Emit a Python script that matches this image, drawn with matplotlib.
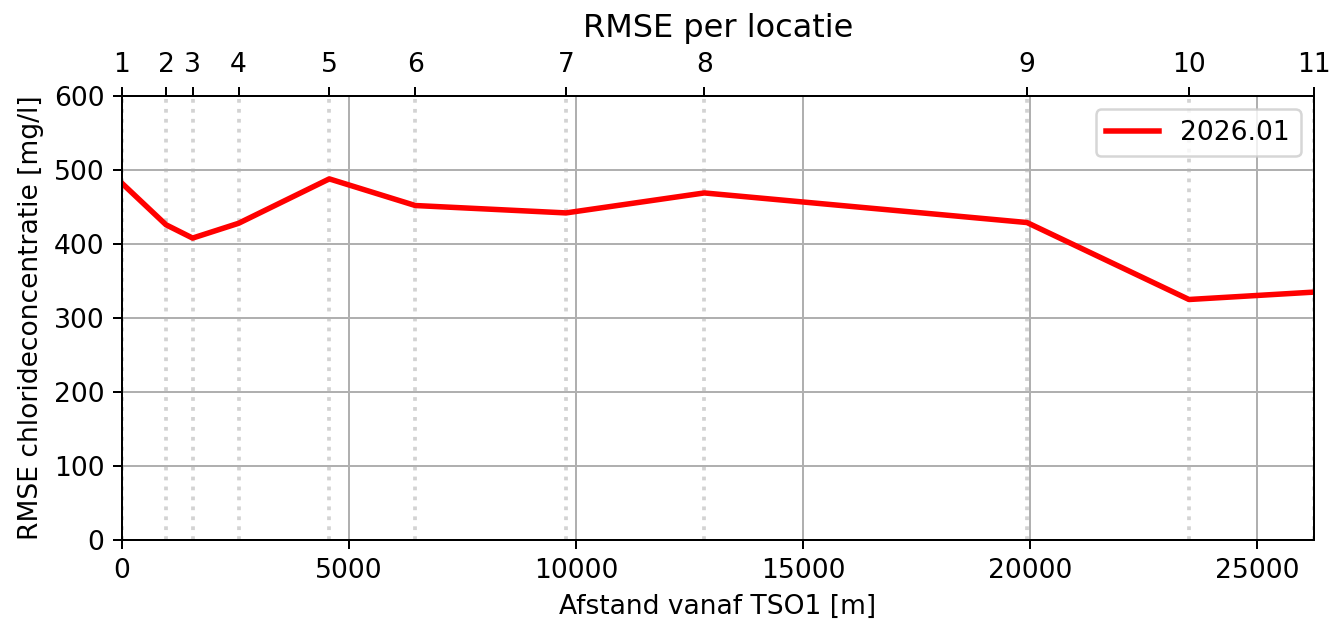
import matplotlib
matplotlib.use("Agg")
import matplotlib.pyplot as plt

# afstand van elke locatie tot TSO1 [m]
afstand = [0, 969, 1555, 2568, 4566, 6460, 9780, 12826, 19934, 23502, 26256]
locaties = ["1", "2", "3", "4", "5", "6", "7", "8", "9", "10", "11"]
rmse_2026_01 = [482, 426, 408, 428, 488, 452, 442, 469, 429, 325, 335]

plt.rcParams["font.size"] = 10.6

DPI = 180
fig = plt.figure(figsize=(1337 / DPI, 621 / DPI), dpi=DPI)
ax = fig.add_axes([122 / 1337, 1 - 540 / 621, (1314 - 122) / 1337, (540 - 96) / 621])

for x in afstand:
    ax.axvline(x, color="lightgray", ls=":", lw=1.5, zorder=1)

ax.plot(afstand, rmse_2026_01, color="red", lw=2.2, label="2026.01", zorder=3)
ax.set_xlim(0, afstand[-1])
ax.set_ylim(0, 600)
ax.grid(True, zorder=0)
ax.set_xlabel("Afstand vanaf TSO1 [m]")
ax.set_ylabel("RMSE chlorideconcentratie [mg/l]")
ax.legend(loc="upper right")

top = ax.twiny()
top.set_xlim(ax.get_xlim())
top.set_xticks(afstand)
top.set_xticklabels(locaties)
top.set_title("RMSE per locatie", fontsize=12.8)

fig.savefig("out.png", dpi=DPI, facecolor="white")
